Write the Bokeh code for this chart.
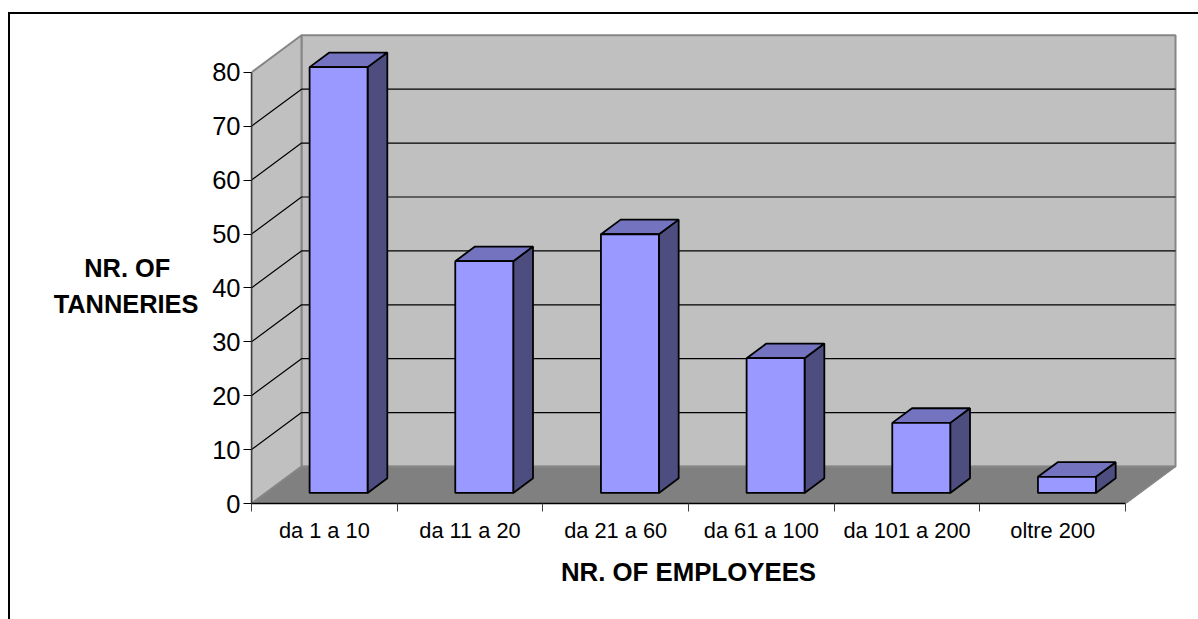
from bokeh.plotting import figure
from bokeh.layouts import column
from bokeh.embed import file_html
from bokeh.resources import INLINE
from bokeh.models import Range1d, FixedTicker, LinearAxis

categories = ["da 1 a 10", "da 11 a 20", "da 21 a 60", "da 61 a 100", "da 101 a 200", "oltre 200"]
values = [79, 43, 48, 25, 13, 3]
value_ticks = [0, 10, 20, 30, 40, 50, 60, 70, 80]
x_title = "NR. OF EMPLOYEES"
y_title_lines = ["NR. OF", "TANNERIES"]

# layout (pixels of the page)
OX, OY = 10, 14          # where the figure starts on the page
W, H = 1188, 605
LEFT, BASE = 251, 503
CAT_PX, UNIT_PX = 145.67, 5.39
DEPTH_X, DEPTH_Y = 50, 37
BAR_HALF = 0.199
BAR_D0, BAR_D1 = 0.285, 0.68
Y_TITLE_AT = [43.7, 37.1]  # height of the two title lines on the value scale
Y_TITLE_PAD = ["\u00a0" * 4, ""]  # right-aligned tick labels: pads the short line to look centred

WALL = "#C0C0C0"; FLOOR = "#808080"; EDGE = "#868686"
FRONT = "#9999FF"; TOP = "#7373BF"; SIDE = "#4D4D80"


def proj(cat, val, depth=0.0):
    """3-D oblique projection into the data space of the front plane."""
    return cat + depth * DEPTH_X / CAT_PX, val + depth * DEPTH_Y / UNIT_PX


def poly(points):
    pts = [proj(*q) for q in points]
    return [a for a, _ in pts], [b for _, b in pts]


n = len(categories)
vmax = max(value_ticks)

p = figure(width=W, height=H, output_backend="svg", toolbar_location=None,
           x_range=Range1d(0, (OX + W - LEFT) / CAT_PX),
           y_range=Range1d(0, (BASE - OY) / UNIT_PX),
           min_border_left=LEFT - OX, min_border_right=0, min_border_top=0,
           min_border_bottom=OY + H - BASE)
p.outline_line_color = None
p.grid.visible = False
p.background_fill_color = "white"

# walls and floor
xs, ys = poly([(0, 0, 0), (n, 0, 0), (n, 0, 1), (0, 0, 1)])
p.patch(xs, ys, fill_color=FLOOR, line_color=FLOOR, line_width=1)
xs, ys = poly([(0, 0, 1), (n, 0, 1), (n, vmax, 1), (0, vmax, 1)])
p.patch(xs, ys, fill_color=WALL, line_color=EDGE, line_width=2)
xs, ys = poly([(0, 0, 0), (0, 0, 1), (0, vmax, 1), (0, vmax, 0)])
p.patch(xs, ys, fill_color=WALL, line_color=EDGE, line_width=2)

# grid lines on side wall and back wall
gx, gy = [], []
for v in value_ticks[1:-1]:
    a, b = poly([(0, v, 0), (0, v, 1), (n, v, 1)])
    gx.append(a); gy.append(b)
p.multi_line(gx, gy, line_color="black", line_width=1.2)

# floor edges redrawn over the wall feet
a, b = poly([(0, 0, 0), (0, 0, 1), (n, 0, 1), (n, 0, 0)])
p.line(a, b, line_color=EDGE, line_width=1.5)

# bars
for i, v in enumerate(values):
    l, r = i + 0.5 - BAR_HALF, i + 0.5 + BAR_HALF
    side = poly([(r, 0, BAR_D0), (r, 0, BAR_D1), (r, v, BAR_D1), (r, v, BAR_D0)])
    top = poly([(l, v, BAR_D0), (r, v, BAR_D0), (r, v, BAR_D1), (l, v, BAR_D1)])
    front = poly([(l, 0, BAR_D0), (r, 0, BAR_D0), (r, v, BAR_D0), (l, v, BAR_D0)])
    p.patch(*side, fill_color=SIDE, line_color="black", line_width=1.8)
    p.patch(*top, fill_color=TOP, line_color="black", line_width=1.8)
    p.patch(*front, fill_color=FRONT, line_color="black", line_width=1.8)

# axes
ya = p.yaxis[0]
ya.ticker = FixedTicker(ticks=value_ticks)
ya.bounds = (0, vmax)
ya.axis_line_color = "#404040"
ya.axis_line_width = 1.5
ya.major_tick_line_color = "black"
ya.major_tick_in = 0
ya.major_tick_out = 8
ya.minor_tick_line_color = None
ya.major_label_standoff = 3
ya.major_label_text_font = "Liberation Sans"
ya.major_label_text_font_size = "25.5px"
ya.major_label_text_color = "black"

xa = p.xaxis[0]
centers = [i + 0.5 for i in range(n)]
xa.ticker = FixedTicker(ticks=centers, minor_ticks=list(range(n + 1)))
xa.major_label_overrides = {c: t for c, t in zip(centers, categories)}
xa.bounds = (0, n)
xa.axis_line_color = "black"
xa.axis_line_width = 1.5
xa.major_tick_line_color = None
xa.major_tick_in = 0
xa.major_tick_out = 0
xa.minor_tick_line_color = "#404040"
xa.minor_tick_in = 0
xa.minor_tick_out = 8
xa.major_label_standoff = 6
xa.major_label_text_font = "Liberation Sans"
xa.major_label_text_font_size = "21.8px"
xa.major_label_text_color = "black"

# the x title sits under the middle of the six categories, not of the frame
xt = LinearAxis(ticker=FixedTicker(ticks=[n / 2]), major_label_overrides={n / 2: x_title},
                axis_line_color=None, major_tick_line_color=None, minor_tick_line_color=None,
                major_tick_in=0, major_tick_out=0, major_label_standoff=12,
                major_label_text_font="Liberation Sans", major_label_text_font_style="bold",
                major_label_text_font_size="25.8px", major_label_text_color="black")
p.add_layout(xt, "below")

# the y title, two horizontal lines placed on the value scale
yt = LinearAxis(ticker=FixedTicker(ticks=Y_TITLE_AT),
                major_label_overrides={at: t + pad for at, t, pad in zip(Y_TITLE_AT, y_title_lines, Y_TITLE_PAD)},
                axis_line_color=None, major_tick_line_color=None, minor_tick_line_color=None,
                major_tick_in=0, major_tick_out=0, major_label_standoff=11,
                major_label_text_font="Liberation Sans", major_label_text_font_style="bold",
                major_label_text_font_size="25.4px", major_label_text_color="black")
p.add_layout(yt, "left")

# chart-area border, running off the right and bottom of the page
page = column(p, margin=(OY - 2, 0, 0, OX - 2),
              styles={"border-left": "2px solid black", "border-top": "2px solid black"})

open("out.html", "w").write(file_html(page, INLINE))
